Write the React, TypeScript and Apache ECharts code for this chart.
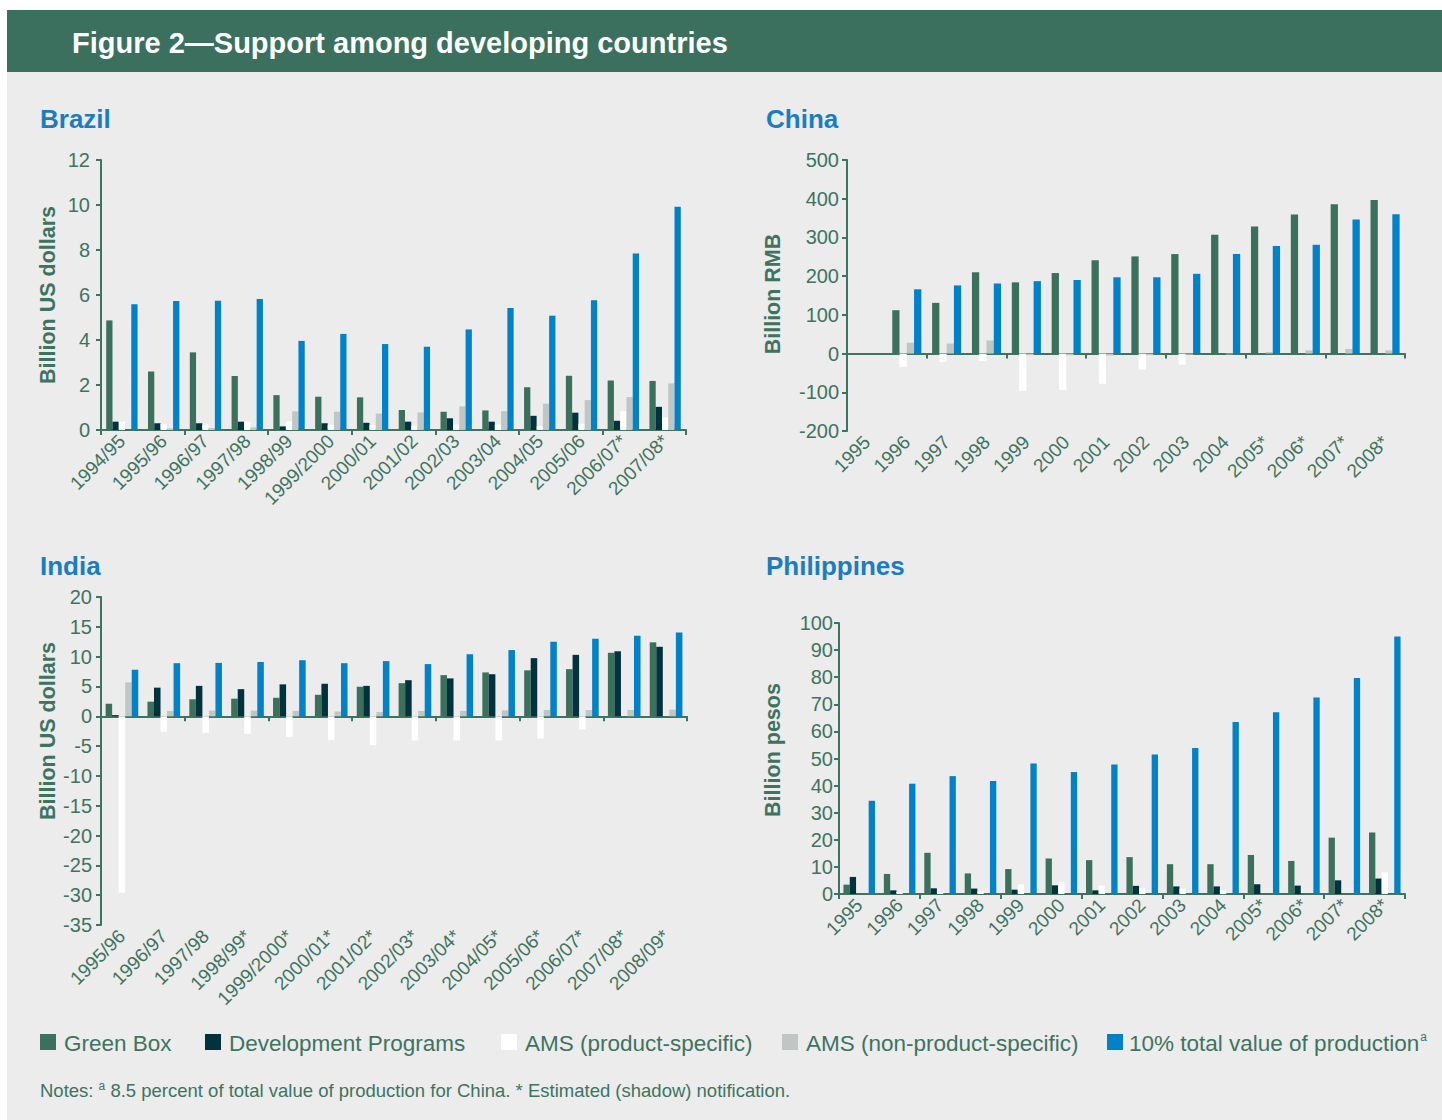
import React, { useEffect, useRef } from "react";
import * as echarts from "echarts";

// ---------- data ----------
const brazilCategories = ["1994/95", "1995/96", "1996/97", "1997/98", "1998/99", "1999/2000", "2000/01", "2001/02", "2002/03", "2003/04", "2004/05", "2005/06", "2006/07*", "2007/08*"];
const brazilGreenBox = [4.87, 2.6, 3.45, 2.4, 1.55, 1.48, 1.45, 0.89, 0.81, 0.87, 1.9, 2.41, 2.2, 2.18];
const brazilDevPrograms = [0.37, 0.3, 0.3, 0.37, 0.16, 0.3, 0.32, 0.37, 0.52, 0.37, 0.63, 0.77, 0.41, 1.03];
const brazilAmsProduct = [0.37, 0.27, 0.24, 0.37, 0.38, 0.22, 0.22, 0.19, 0.24, 0.24, 0.16, 0.28, 0.83, 0.56];
const brazilAmsNonProduct = [-0.12, 0.07, 0.09, 0.12, 0.83, 0.81, 0.73, 0.78, 1.05, 0.84, 1.17, 1.33, 1.46, 2.07];
const brazilTotal = [5.59, 5.73, 5.74, 5.82, 3.96, 4.27, 3.82, 3.7, 4.47, 5.42, 5.08, 5.77, 7.85, 9.92];

const chinaCategories = ["1995", "1996", "1997", "1998", "1999", "2000", "2001", "2002", "2003", "2004", "2005*", "2006*", "2007*", "2008*"];
const chinaGreenBox = [null, 112, 131, 210, 184, 208, 241, 251, 257, 307, 328, 359, 386, 397];
const chinaAmsProduct = [null, -34, -22, -19, -97, -94, -78, -41, -29, 0, 0, 0, 0, 0];
const chinaAmsNonProduct = [null, 28, 26, 34, -4, -4, -5, -4, -3, -2, 4, 8, 12, 8];
const chinaTotal = [null, 166, 176, 181, 187, 190, 197, 197, 206, 257, 278, 281, 346, 360];

const indiaCategories = ["1995/96", "1996/97", "1997/98", "1998/99*", "1999/2000*", "2000/01*", "2001/02*", "2002/03*", "2003/04*", "2004/05*", "2005/06*", "2006/07*", "2007/08*", "2008/09*"];
const indiaGreenBox = [2.1, 2.45, 2.85, 2.95, 3.1, 3.6, 4.95, 5.55, 6.9, 7.35, 7.7, 7.9, 10.65, 12.4];
const indiaDevPrograms = [0.2, 4.8, 5.1, 4.55, 5.35, 5.45, 5.1, 6.05, 6.35, 7.05, 9.75, 10.3, 10.9, 11.65];
const indiaAmsProduct = [-29.6, -2.6, -2.8, -2.95, -3.45, -4.0, -4.85, -4.05, -4.05, -4.05, -3.75, -2.2, 0, 0];
const indiaAmsNonProduct = [5.7, 0.9, 0.95, 0.95, 0.9, 0.8, 0.7, 0.9, 0.9, 1.0, 1.05, 1.05, 1.05, 1.1];
const indiaTotal = [7.8, 8.9, 8.95, 9.1, 9.4, 8.9, 9.25, 8.75, 10.4, 11.1, 12.5, 13.0, 13.5, 14.05];

const philCategories = ["1995", "1996", "1997", "1998", "1999", "2000", "2001", "2002", "2003", "2004", "2005*", "2006*", "2007*", "2008*"];
const philGreenBox = [3.45, 7.4, 15.2, 7.6, 9.2, 13.1, 12.5, 13.6, 11.0, 11.0, 14.4, 12.2, 20.8, 22.7];
const philDevPrograms = [6.3, 1.35, 2.1, 2.0, 1.6, 3.2, 1.35, 3.0, 2.8, 2.8, 3.6, 3.1, 5.05, 5.7];
const philAmsProduct = [0, 0.75, 0.4, 1.0, 3.6, 4.3, 3.1, 2.1, 2.0, 1.35, 0, 0, 0, 8.0];
const philAmsNonProduct = [0, 0, 0, 0, 0, 0, 0, 0, 0, 0, 0, 0, 0, 0];
const philTotal = [34.4, 40.7, 43.5, 41.7, 48.2, 45.0, 47.8, 51.5, 53.9, 63.5, 67.1, 72.5, 79.7, 95.0];

const seriesNames = ["Green Box", "Development Programs", "AMS (product-specific)", "AMS (non-product-specific)", "10% total value of production"];

// ---------- styles ----------
const C_GREEN = "#3b705d";
const C_DARK = "#03323f";
const C_WHITE = "#ffffff";
const C_GRAY = "#c0c6c3";
const C_BLUE = "#0081c8";
const C_TEXT = "#3f7361";
const C_TITLE = "#1b7dc0";
const C_BG = "#ebeceb";
const FONT = "'Liberation Sans', Arial, sans-serif";

type Panel = {
  title: string;
  yName: string;
  cats: string[];
  grid: { left: number; top: number; width: number; height: number };
  y: { min: number; max: number; interval: number; margin: number };
  gap: string;
  series: { name: string; data: (number | null)[]; color: string }[];
  titlePos: [number, number];
  namePos: [number, number];
};

const panels: Panel[] = [
  {
    title: "Brazil",
    yName: "Billion US dollars",
    cats: brazilCategories,
    grid: { left: 101, top: 160, width: 585, height: 270 },
    y: { min: 0, max: 12, interval: 2, margin: 11 },
    gap: "25%",
    series: [
      { name: seriesNames[0], data: brazilGreenBox, color: C_GREEN },
      { name: seriesNames[1], data: brazilDevPrograms, color: C_DARK },
      { name: seriesNames[2], data: brazilAmsProduct, color: C_WHITE },
      { name: seriesNames[3], data: brazilAmsNonProduct, color: C_GRAY },
      { name: seriesNames[4], data: brazilTotal, color: C_BLUE },
    ],
    titlePos: [40, 119],
    namePos: [48, 295],
  },
  {
    title: "China",
    yName: "Billion RMB",
    cats: chinaCategories,
    grid: { left: 847, top: 160, width: 558, height: 271 },
    y: { min: -200, max: 500, interval: 100, margin: 8 },
    gap: "27%",
    series: [
      { name: seriesNames[0], data: chinaGreenBox, color: C_GREEN },
      { name: seriesNames[2], data: chinaAmsProduct, color: C_WHITE },
      { name: seriesNames[3], data: chinaAmsNonProduct, color: C_GRAY },
      { name: seriesNames[4], data: chinaTotal, color: C_BLUE },
    ],
    titlePos: [766, 119],
    namePos: [773, 294],
  },
  {
    title: "India",
    yName: "Billion US dollars",
    cats: indiaCategories,
    grid: { left: 101, top: 597, width: 586, height: 328 },
    y: { min: -35, max: 20, interval: 5, margin: 9 },
    gap: "22%",
    series: [
      { name: seriesNames[0], data: indiaGreenBox, color: C_GREEN },
      { name: seriesNames[1], data: indiaDevPrograms, color: C_DARK },
      { name: seriesNames[2], data: indiaAmsProduct, color: C_WHITE },
      { name: seriesNames[3], data: indiaAmsNonProduct, color: C_GRAY },
      { name: seriesNames[4], data: indiaTotal, color: C_BLUE },
    ],
    titlePos: [40, 566],
    namePos: [48, 731],
  },
  {
    title: "Philippines",
    yName: "Billion pesos",
    cats: philCategories,
    grid: { left: 839, top: 623, width: 566, height: 271 },
    y: { min: 0, max: 100, interval: 10, margin: 6 },
    gap: "22%",
    series: [
      { name: seriesNames[0], data: philGreenBox, color: C_GREEN },
      { name: seriesNames[1], data: philDevPrograms, color: C_DARK },
      { name: seriesNames[2], data: philAmsProduct, color: C_WHITE },
      { name: seriesNames[3], data: philAmsNonProduct, color: C_GRAY },
      { name: seriesNames[4], data: philTotal, color: C_BLUE },
    ],
    titlePos: [766, 566],
    namePos: [773, 750],
  },
];

const legendItems = [
  { name: seriesNames[0], color: C_GREEN, x: 40 },
  { name: seriesNames[1], color: C_DARK, x: 205 },
  { name: seriesNames[2], color: C_WHITE, x: 501 },
  { name: seriesNames[3], color: C_GRAY, x: 782 },
  { name: seriesNames[4], color: C_BLUE, x: 1107 },
];

function buildOption() {
  const grid: any[] = [];
  const xAxis: any[] = [];
  const yAxis: any[] = [];
  const series: any[] = [];
  const graphic: any[] = [];

  graphic.push({ type: "rect", shape: { x: 7, y: 10, width: 1435, height: 1110 }, style: { fill: C_BG }, z: -10 });
  graphic.push({ type: "rect", shape: { x: 7, y: 10, width: 1435, height: 62 }, style: { fill: "#3b705e" }, z: -9 });
  graphic.push({
    type: "text",
    x: 72,
    y: 43,
    style: { text: "Figure 2\u2014Support among developing countries", fill: "#ffffff", font: `bold 29px ${FONT}`, verticalAlign: "middle" },
  });

  const lineStyle = { color: C_TEXT, width: 2 };

  panels.forEach((p, i) => {
    grid.push({ ...p.grid, containLabel: false });
    xAxis.push({
      type: "category",
      gridIndex: i,
      data: p.cats,
      position: "bottom",
      axisLine: { show: false, onZero: false },
      axisTick: { show: false },
      splitLine: { show: false },
      axisLabel: { rotate: 45, interval: 0, fontSize: 19, color: C_TEXT, fontFamily: FONT, margin: 8 },
    });
    xAxis.push({
      type: "category",
      gridIndex: i,
      data: p.cats,
      position: "bottom",
      axisLine: { show: true, onZero: true, lineStyle },
      axisTick: { show: true, length: 5, lineStyle },
      splitLine: { show: false },
      axisLabel: { show: false },
    });
    yAxis.push({
      type: "value",
      gridIndex: i,
      min: p.y.min,
      max: p.y.max,
      interval: p.y.interval,
      axisLine: { show: true, lineStyle },
      axisTick: { show: true, length: 5, lineStyle },
      splitLine: { show: false },
      axisLabel: { fontSize: 20, color: C_TEXT, fontFamily: FONT, margin: p.y.margin },
    });
    p.series.forEach((s) => {
      series.push({
        type: "bar",
        name: s.name,
        xAxisIndex: 2 * i,
        yAxisIndex: i,
        data: s.data,
        barGap: "0%",
        barCategoryGap: p.gap,
        itemStyle: { color: s.color },
        emphasis: { disabled: true },
      });
    });
    graphic.push({
      type: "text",
      x: p.titlePos[0],
      y: p.titlePos[1],
      style: { text: p.title, fill: C_TITLE, font: `bold 26px ${FONT}`, verticalAlign: "middle" },
    });
    graphic.push({
      type: "text",
      x: p.namePos[0],
      y: p.namePos[1],
      rotation: Math.PI / 2,
      style: { text: p.yName, fill: C_TEXT, font: `bold 21.5px ${FONT}`, align: "center", verticalAlign: "middle" },
    });
  });

  legendItems.forEach((l, idx) => {
    graphic.push({ type: "rect", shape: { x: l.x, y: 1034, width: 16, height: 16 }, style: { fill: l.color } });
    if (idx === 4) {
      graphic.push({
        type: "text",
        x: l.x + 22,
        y: 1043,
        style: {
          text: `{t|${l.name}}{s|a}`,
          verticalAlign: "middle",
          rich: {
            t: { fill: C_TEXT, font: `22.5px ${FONT}` },
            s: { fill: C_TEXT, font: `12px ${FONT}`, verticalAlign: "top", padding: [0, 0, 12, 1] },
          },
        },
      });
    } else {
      graphic.push({
        type: "text",
        x: l.x + 24,
        y: 1043,
        style: { text: l.name, fill: C_TEXT, font: `22.5px ${FONT}`, verticalAlign: "middle" },
      });
    }
  });

  graphic.push({
    type: "text",
    x: 40,
    y: 1090,
    style: {
      text: "{t|Notes: }{s|a}{t| 8.5 percent of total value of production for China. * Estimated (shadow) notification.}",
      verticalAlign: "middle",
      rich: {
        t: { fill: C_TEXT, font: `18.5px ${FONT}` },
        s: { fill: C_TEXT, font: `12px ${FONT}`, padding: [0, 0, 8, 0] },
      },
    },
  });

  return {
    animation: false,
    backgroundColor: "#ffffff",
    grid,
    xAxis,
    yAxis,
    series,
    graphic,
  };
}

export default function App() {
  const ref = useRef<HTMLDivElement>(null);
  useEffect(() => {
    if (!ref.current) return;
    const chart = echarts.init(ref.current, null, { renderer: "svg" });
    chart.setOption(buildOption() as any);
    return () => chart.dispose();
  }, []);
  return <div ref={ref} style={{ position: "absolute", left: 0, top: 0, width: 1442, height: 1120 }} />;
}
